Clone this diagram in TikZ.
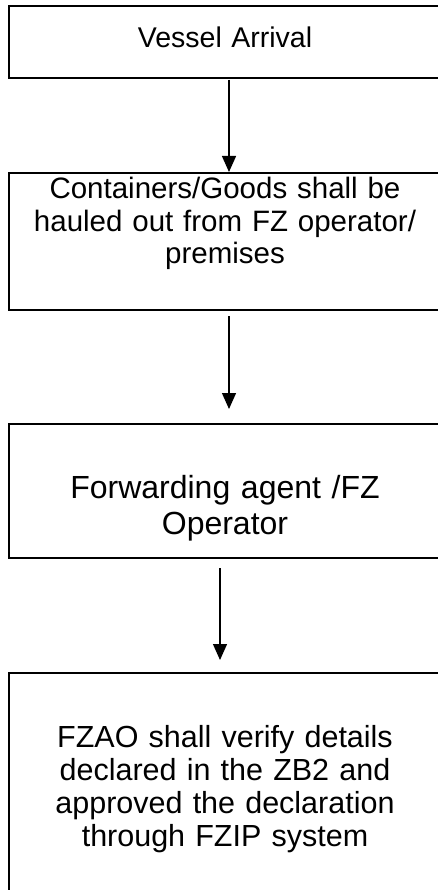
\documentclass[tikz,border=0pt]{standalone}
\usepackage{fontspec}
\setmainfont{Liberation Sans}
\usetikzlibrary{arrows.meta}

\begin{document}
\begin{tikzpicture}[
	box/.style={draw, line width=2pt, anchor=north west, inner sep=0pt, minimum width=432pt, text width=432pt, align=center},
	flow/.style={line width=1.3pt, -{Triangle[length=16pt,width=14pt]}}
	]
	
	
	%\draw[step=10pt,black,thin] (0,0) grid (437pt,-890pt);
	\useasboundingbox (0,0) rectangle (437pt,-890pt);
	
	\node [box, font=\fontsize{28.5}{33}\selectfont, text height=41.7pt, text depth=30.3pt] (arrival) at (8pt,-5pt) {Vessel Arrival};
	
	\node [box, font=\fontsize{29.5}{32.5}\selectfont, text height=26pt, text depth=111pt] (hauled) at (8pt,-172pt) {Containers/Goods shall be\\hauled out from FZ operator/\\premises};
	
	\node [box, font=\fontsize{32}{36}\selectfont, text height=74pt, text depth=60pt] (agent) at (8pt,-423pt) {Forwarding agent /FZ\\Operator};
	
	\node [box, font=\fontsize{30.5}{33}\selectfont, text height=74pt, text depth=149pt] (verify) at (8pt,-672pt) {FZAO shall verify details\\declared in the ZB2 and\\approved the declaration\\through FZIP system};
	
	
	
	\draw [flow] ([xshift=4pt,yshift=-1pt]arrival.south) -- ([xshift=4pt]hauled.north);
	\draw [flow] ([xshift=4pt,yshift=-5pt]hauled.south) -- ([xshift=4pt,yshift=14pt]agent.north);
	\draw [flow] ([xshift=-5pt,yshift=-9pt]agent.south) -- ([xshift=-5pt,yshift=12pt]verify.north);
	
	
\end{tikzpicture}
\end{document}
